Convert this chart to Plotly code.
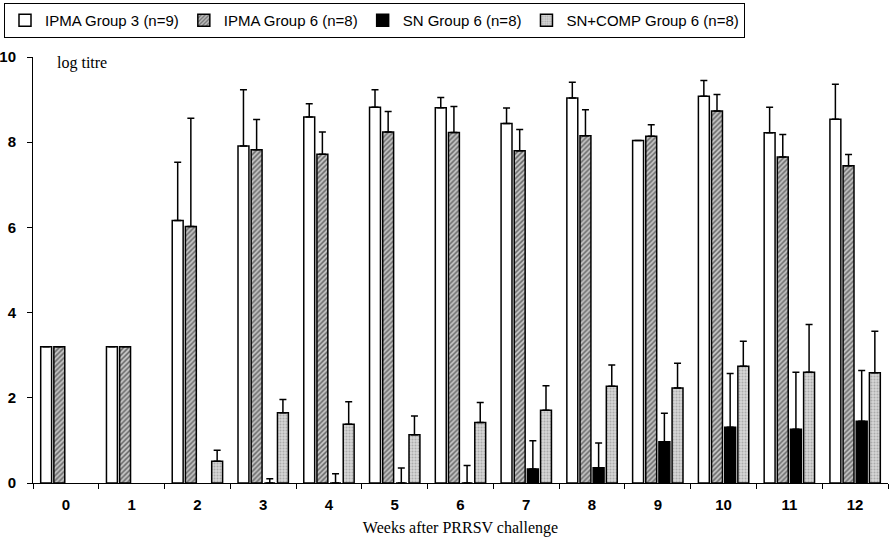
import plotly.graph_objects as go

weeks = [str(i) for i in range(13)]

ipma_g3 = [3.2, 3.2, 6.16, 7.91, 8.59, 8.82, 8.81, 8.44, 9.04, 8.04, 9.08, 8.22, 8.54]
ipma_g3_err = [None, None, 1.37, 1.32, 0.31, 0.41, 0.24, 0.36, 0.37, None, 0.37, 0.60, 0.82]

ipma_g6 = [3.2, 3.2, 6.02, 7.82, 7.72, 8.24, 8.23, 7.80, 8.15, 8.14, 8.73, 7.65, 7.45]
ipma_g6_err = [None, None, 2.54, 0.71, 0.52, 0.48, 0.61, 0.50, 0.61, 0.27, 0.39, 0.53, 0.26]

sn_g6 = [None, None, None, 0, 0, 0, 0, 0.33, 0.36, 0.97, 1.31, 1.26, 1.45]
sn_g6_err = [None, None, None, 0.10, 0.22, 0.35, 0.41, 0.66, 0.58, 0.67, 1.26, 1.34, 1.19]

sncomp_g6 = [None, None, 0.51, 1.65, 1.38, 1.13, 1.42, 1.71, 2.27, 2.23, 2.74, 2.60, 2.59]
sncomp_g6_err = [None, None, 0.26, 0.31, 0.53, 0.44, 0.47, 0.57, 0.50, 0.58, 0.59, 1.12, 0.97]

names = ["IPMA Group 3 (n=9)", "IPMA Group 6 (n=8)", "SN Group 6 (n=8)", "SN+COMP Group 6 (n=8)"]

SANS = "Liberation Sans, Arial, sans-serif"
SERIF = "Liberation Serif, Times New Roman, serif"


def err(a):
    return dict(type="data", symmetric=False, array=a, arrayminus=[0] * len(a),
                color="black", thickness=1.5, width=3.5)


fig = go.Figure()
fig.add_bar(x=weeks, y=ipma_g3, name=names[0], error_y=err(ipma_g3_err),
            marker=dict(color="white", line=dict(color="black", width=1.5)))
fig.add_bar(x=weeks, y=ipma_g6, name=names[1], error_y=err(ipma_g6_err),
            marker=dict(color="white", line=dict(color="black", width=1.5),
                        pattern=dict(shape="/", fgcolor="#111", bgcolor="#c4c4c4", size=3.5, solidity=0.45)))
fig.add_bar(x=weeks, y=sn_g6, name=names[2], error_y=err(sn_g6_err),
            marker=dict(color="black", line=dict(color="black", width=1.5)))
fig.add_bar(x=weeks, y=sncomp_g6, name=names[3], error_y=err(sncomp_g6_err),
            marker=dict(color="#c8c8c8", line=dict(color="black", width=1.5),
                        pattern=dict(shape=".", fgcolor="#808080", bgcolor="#d6d6d6", size=3, solidity=0.35)))

fig.update_layout(
    width=893, height=548,
    margin=dict(l=33, r=5, t=57, b=65),
    paper_bgcolor="white", plot_bgcolor="white",
    barmode="group", bargap=0.2, bargroupgap=0.17,
    font=dict(family=SANS, color="black", size=13),
    showlegend=True,
    legend=dict(orientation="h", xref="container", yref="container",
                x=4 / 893, y=1 - 3 / 548, xanchor="left", yanchor="top",
                bordercolor="black", borderwidth=1, bgcolor="white",
                font=dict(family=SANS, size=15),
                itemwidth=30, tracegroupgap=0),
    xaxis=dict(
        range=[-0.5, 12.5], showline=True, linecolor="black", linewidth=1,
        ticks="outside", ticklen=5, tickcolor="black", tickson="boundaries",
        showgrid=False, zeroline=False, ticklabelstandoff=8, automargin=False,
        tickfont=dict(family=SANS, size=15, weight="bold"),
        title=dict(text="Weeks after PRRSV challenge", standoff=9,
                   font=dict(family=SERIF, size=16)),
    ),
    yaxis=dict(
        range=[0, 10], showline=True, linecolor="black", linewidth=1,
        ticks="outside", ticklen=5, tickcolor="black", tickvals=[0, 2, 4, 6, 8, 10],
        showgrid=False, zeroline=False, ticklabelstandoff=8, automargin=False,
        tickfont=dict(family=SANS, size=15, weight="bold"),
    ),
)

fig.add_annotation(text="log titre", xref="paper", yref="y", x=22 / 855, y=9.87,
                   xanchor="left", yanchor="middle", showarrow=False,
                   font=dict(family=SERIF, size=16))

fig.write_html("out.html")
